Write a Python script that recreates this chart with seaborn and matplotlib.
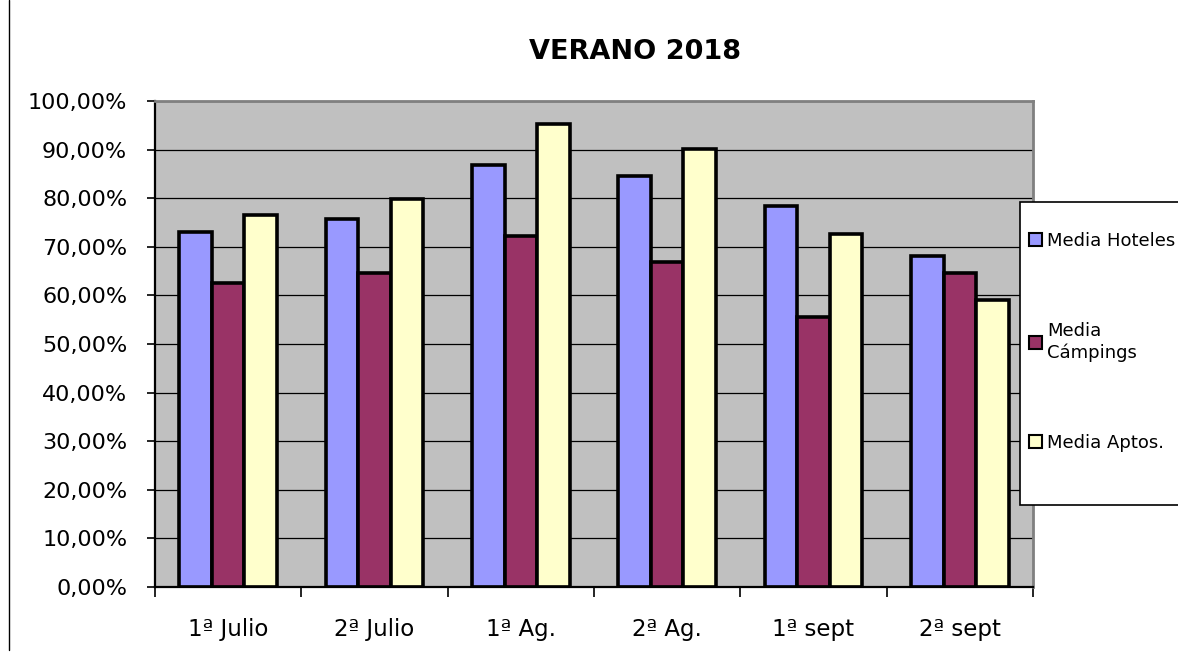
import numpy as np
import pandas as pd
import seaborn as sns
from matplotlib import pyplot as plt
from matplotlib.ticker import FuncFormatter, FixedLocator
from matplotlib.lines import Line2D
from matplotlib.patches import Rectangle

periodos = ['1ª Julio', '2ª Julio', '1ª Ag.', '2ª Ag.', '1ª sept', '2ª sept']
hoteles = [73.1, 75.7, 86.8, 84.6, 78.3, 68.1]
campings = [62.5, 64.7, 72.2, 66.9, 55.6, 64.7]
aptos = [76.5, 79.8, 95.3, 90.1, 72.6, 59.1]
series = ['Media Hoteles', 'Media\nCámpings', 'Media Aptos.']
colores = ['#9999FF', '#993366', '#FFFFCC']

df = pd.DataFrame({
    'periodo': periodos * 3,
    'valor': hoteles + campings + aptos,
    'serie': [series[0]] * 6 + [series[1]] * 6 + [series[2]] * 6,
})

sns.set_style('white')
plt.rcParams['font.family'] = ['DejaVu Sans']
plt.rcParams['text.color'] = 'black'
plt.rcParams['xtick.color'] = 'black'
plt.rcParams['ytick.color'] = 'black'

fig = plt.figure(figsize=(11.78, 6.54), dpi=100)
ax = fig.add_axes([155 / 1178, 1 - 587 / 654, (1033 - 155) / 1178, (587 - 101) / 654])
ax.set_facecolor('#C0C0C0')

sns.barplot(data=df, x='periodo', y='valor', hue='serie', order=periodos,
            hue_order=series, palette=dict(zip(series, colores)), saturation=1,
            width=3 / 4.5, gap=0, edgecolor='black', linewidth=2.6, ax=ax,
            legend=True)

ax.set_ylim(0, 100)
ax.set_xlim(-0.5, 5.5)
ax.set_yticks(np.arange(0, 101, 10))
ax.yaxis.set_major_formatter(FuncFormatter(lambda v, p: f'{v:.2f}'.replace('.', ',') + '%'))
ax.grid(axis='y', color='black', linewidth=0.9)
ax.set_axisbelow(True)
ax.set_xlabel('')
ax.set_ylabel('')

ax.xaxis.set_minor_locator(FixedLocator(np.arange(-0.5, 6, 1)))
ax.tick_params(axis='x', which='major', length=0, pad=22, labelsize=16.5)
ax.tick_params(axis='x', which='minor', length=7, width=1.2, color='black', direction='out')
ax.tick_params(axis='y', length=6, width=1.2, color='black', direction='out', pad=14, labelsize=16)
ax.tick_params(left=True, bottom=True, which='both')

for s in ['left', 'bottom']:
    ax.spines[s].set_color('black')
    ax.spines[s].set_linewidth(1.6)
for s in ['top', 'right']:
    ax.spines[s].set_color('#808080')
    ax.spines[s].set_linewidth(2)

handles, labels = ax.get_legend_handles_labels()
ax.get_legend().remove()

fig.add_artist(Rectangle((1020 / 1178, 1 - 505 / 654), 200 / 1178, 303 / 654,
                         transform=fig.transFigure, facecolor='white',
                         edgecolor='black', linewidth=1.2, zorder=3))
leg = fig.legend(handles, labels, loc='upper left',
                 bbox_to_anchor=(1029 / 1178, 1 - 232 / 654),
                 frameon=False, fontsize=13, labelspacing=4.0,
                 handlelength=0.7, handleheight=0.7, handletextpad=0.3,
                 borderpad=0, borderaxespad=0)
leg.set_zorder(4)
for h in leg.legend_handles:
    h.set_linewidth(1.5)

fig.text(635 / 1178, 1 - 52 / 654, 'VERANO 2018', ha='center', va='center',
         fontsize=19.5, fontweight='bold')

fig.add_artist(Line2D([9 / 1178, 9 / 1178], [1 - 650 / 654, 1], color='black',
                      linewidth=1, transform=fig.transFigure))

fig.savefig('out.png', dpi=100, facecolor='white')
